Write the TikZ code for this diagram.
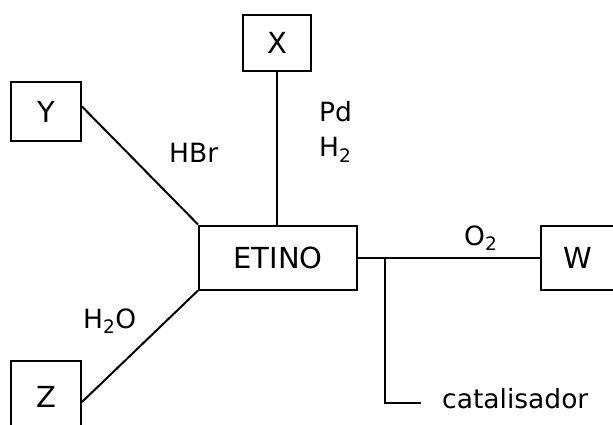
\documentclass[tikz,border=0pt]{standalone}
\usepackage{fontspec}
\setmainfont{DejaVu Sans}
\begin{document}
\begin{tikzpicture}[x=1pt,y=-1pt,
  box/.style={draw,line width=2pt,inner sep=0pt,font=\fontsize{29}{32}\selectfont},
  lbl/.style={inner sep=0pt,anchor=base west,font=\fontsize{26.5}{30}\selectfont},
  conn/.style={line width=2pt}]
\useasboundingbox (0,0) rectangle (613,425);
\node[box,minimum width=68pt,minimum height=56pt] (X) at (277,43) {X};
\node[box,minimum width=70pt,minimum height=59pt] (Y) at (46,111.5) {Y};
\node[box,minimum width=70pt,minimum height=72pt] (Z) at (46,397) {Z};
\node[box,minimum width=158pt,minimum height=64pt] (E) at (278,257.5) {ETINO};
\node[box,minimum width=74pt,minimum height=64pt] (W) at (578,257.5) {W};
\node[lbl] (pd) at (319,122) {Pd};
\node[lbl] (h2) at (319,157) {H\textsubscript{2}};
\node[lbl] (hbr) at (169,163) {HBr};
\node[lbl] (o2) at (464,245) {O\textsubscript{2}};
\node[lbl] (h2o) at (83,328) {H\textsubscript{2}O};
\node[lbl] (cat) at (442,408) {catalisador};
\coordinate (br) at (385,257.5);
\coordinate (ce) at (421,403);
\draw[conn] (X.south) -- (X.south |- E.north);
\draw[conn] ([yshift=5pt]Y.east) -- (E.north west);
\draw[conn] (E.south west) -- ([yshift=-5pt]Z.east);
\draw[conn] (E.east) -- (W.west);
\draw[conn] (br) |- (ce);
\end{tikzpicture}
\end{document}
